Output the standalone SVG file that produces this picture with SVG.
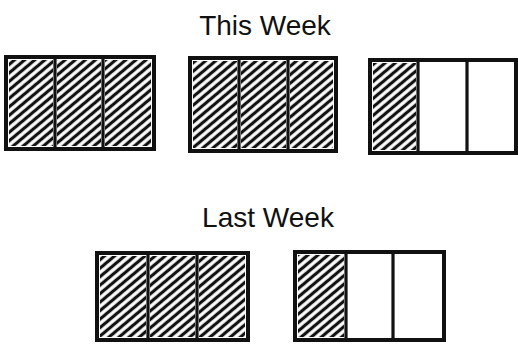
<svg xmlns="http://www.w3.org/2000/svg" width="518" height="347" viewBox="0 0 518 347">
  <defs>
    <pattern id="hatch" width="6.5" height="6.5" patternUnits="userSpaceOnUse" patternTransform="rotate(-40)">
      <line x1="0" y1="3.25" x2="6.5" y2="3.25" stroke="#111" stroke-width="3.2"/>
    </pattern>
  </defs>
  <style>
    .frame { fill: #fff; stroke: #111; stroke-width: 4; }
    .div { stroke: #111; stroke-width: 3.2; }
    .hatch { fill: url(#hatch); }
    .title { font-family: "Liberation Sans", Arial, sans-serif; font-size: 28px; fill: #111; text-anchor: middle; }
  </style>
  <rect width="518" height="347" fill="#fff"/>

  <text class="title" x="265" y="35">This Week</text>
  <text class="title" x="268" y="227">Last Week</text>

  <g id="tw1">
    <rect class="frame" x="6" y="57" width="148" height="92"/>
    <rect class="hatch" x="9" y="60" width="44" height="86"/>
    <rect class="hatch" x="57" y="60" width="44" height="86"/>
    <rect class="hatch" x="105" y="60" width="46" height="86"/>
    <line class="div" x1="55" y1="57" x2="55" y2="149"/>
    <line class="div" x1="103" y1="57" x2="103" y2="149"/>
  </g>

  <g id="tw2">
    <rect class="frame" x="190" y="58" width="146" height="93"/>
    <rect class="hatch" x="193" y="61" width="44" height="87"/>
    <rect class="hatch" x="241" y="61" width="45" height="87"/>
    <rect class="hatch" x="290" y="61" width="43" height="87"/>
    <line class="div" x1="239" y1="58" x2="239" y2="151"/>
    <line class="div" x1="288" y1="58" x2="288" y2="151"/>
  </g>

  <g id="tw3">
    <rect class="frame" x="370" y="60" width="146" height="93"/>
    <rect class="hatch" x="373" y="63" width="43" height="87"/>
    <line class="div" x1="418" y1="60" x2="418" y2="153"/>
    <line class="div" x1="467" y1="60" x2="467" y2="153"/>
  </g>

  <g id="lw1">
    <rect class="frame" x="97" y="253" width="151" height="87"/>
    <rect class="hatch" x="100" y="256" width="46" height="81"/>
    <rect class="hatch" x="150" y="256" width="45" height="81"/>
    <rect class="hatch" x="199" y="256" width="46" height="81"/>
    <line class="div" x1="148" y1="253" x2="148" y2="340"/>
    <line class="div" x1="197" y1="253" x2="197" y2="340"/>
  </g>

  <g id="lw2">
    <rect class="frame" x="295" y="252" width="149" height="88"/>
    <rect class="hatch" x="298" y="255" width="46" height="82"/>
    <line class="div" x1="346" y1="252" x2="346" y2="340"/>
    <line class="div" x1="393" y1="252" x2="393" y2="340"/>
  </g>

  <g id="connectors"></g>
</svg>
